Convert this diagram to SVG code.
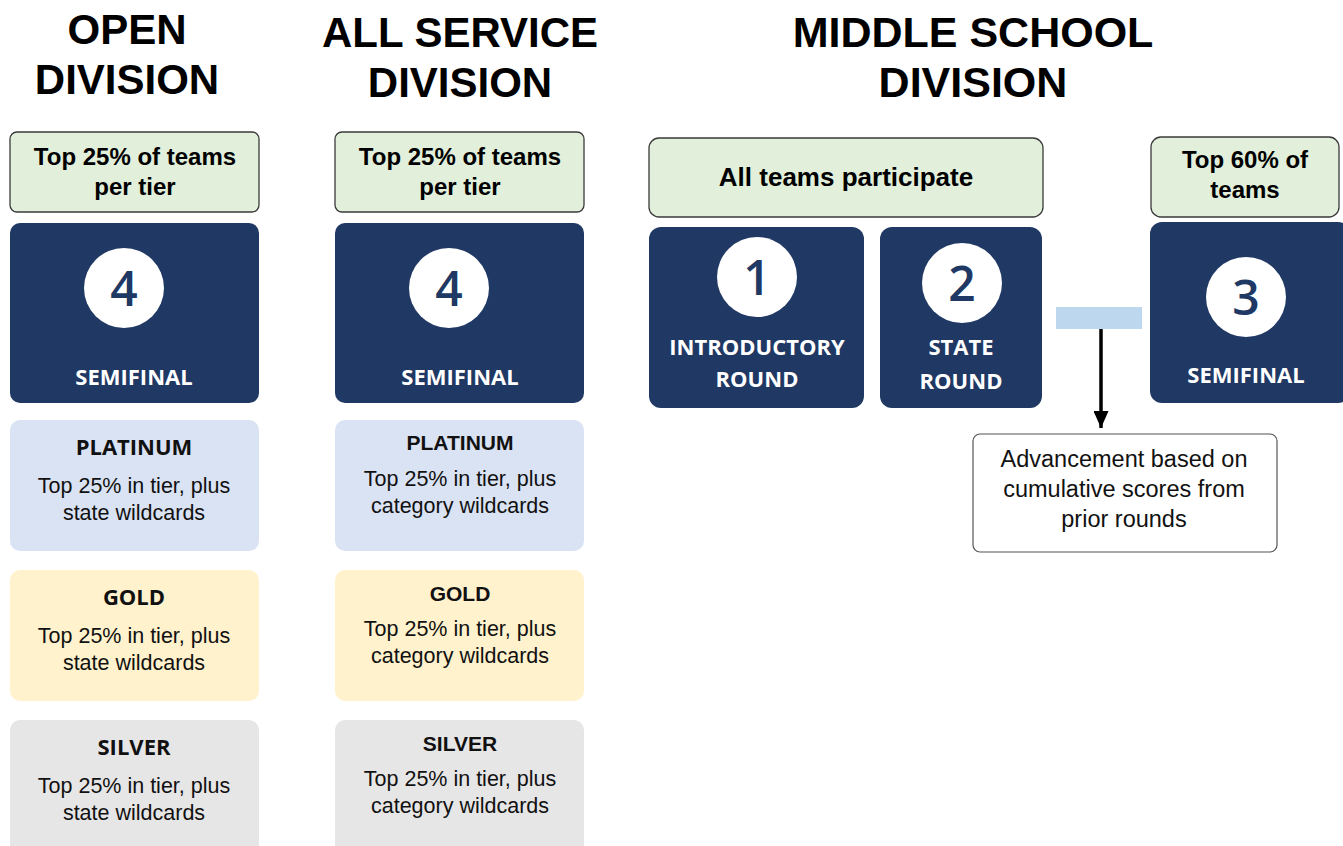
<svg xmlns="http://www.w3.org/2000/svg" width="1343" height="846" viewBox="0 0 1343 846">
<defs>
<style>
.head{font-family:"Liberation Sans",Arial,sans-serif;font-weight:bold;font-size:42px;fill:#000;text-anchor:middle}
.green{fill:#e2efda;stroke:#3a3a3a;stroke-width:1.3}
.gtext{font-family:"Liberation Sans",Arial,sans-serif;font-weight:bold;font-size:24px;fill:#000;text-anchor:middle}
.navy{fill:#203864}
.circ{fill:#fff}
.num{font-family:"Open Sans",sans-serif;font-weight:600;font-size:48px;fill:#203864;text-anchor:middle}
.ntext{font-family:"Open Sans",sans-serif;font-weight:bold;font-size:22px;fill:#fff;text-anchor:middle}
.plat{fill:#dae3f3}
.gold{fill:#fff2cc}
.silv{fill:#e7e6e6}
.ttl{font-family:"Open Sans",sans-serif;font-weight:bold;font-size:22px;fill:#111;text-anchor:middle}
.ttl2{font-family:"Liberation Sans",Arial,sans-serif;font-weight:bold;font-size:21px;fill:#111;text-anchor:middle}
.desc{font-family:"Liberation Sans",Arial,sans-serif;font-size:21.5px;fill:#111;text-anchor:middle}
.note{fill:#fff;stroke:#555;stroke-width:1.2}
.ntxt{font-family:"Liberation Sans",Arial,sans-serif;font-size:23.5px;fill:#111;text-anchor:middle}
</style>
<marker id="arr" markerWidth="17" markerHeight="15" refX="17" refY="7.5" orient="auto" markerUnits="userSpaceOnUse">
<path d="M0,0 L17,7.5 L0,15 z" fill="#000"/>
</marker>
</defs>
<rect width="1343" height="846" fill="#fff"/>

<g id="heading-open">
<text class="head" x="127" y="44">OPEN</text>
<text class="head" x="127" y="94">DIVISION</text>
</g>
<g id="heading-allservice">
<text class="head" x="460" y="47">ALL SERVICE</text>
<text class="head" x="460" y="97">DIVISION</text>
</g>
<g id="heading-middle">
<text class="head" x="973" y="47" style="font-size:43px">MIDDLE SCHOOL</text>
<text class="head" x="973" y="97" style="font-size:43px">DIVISION</text>
</g>

<!-- Open division -->
<g id="open-qual">
<rect class="green" x="10" y="132" width="249" height="80" rx="7"/>
<text class="gtext" x="135" y="165">Top 25% of teams</text>
<text class="gtext" x="135" y="195">per tier</text>
</g>
<g id="open-semifinal">
<rect class="navy" x="10" y="223" width="249" height="180" rx="10"/>
<circle class="circ" cx="124" cy="288" r="40"/>
<text class="num" x="124" y="306">4</text>
<text class="ntext" x="134" y="385">SEMIFINAL</text>
</g>
<g id="open-platinum">
<rect class="plat" x="10" y="420" width="249" height="131" rx="10"/>
<text class="ttl" x="134" y="455">PLATINUM</text>
<text class="desc" x="134" y="493">Top 25% in tier, plus</text>
<text class="desc" x="134" y="520">state wildcards</text>
</g>
<g id="open-gold">
<rect class="gold" x="10" y="570" width="249" height="131" rx="10"/>
<text class="ttl" x="134" y="605">GOLD</text>
<text class="desc" x="134" y="643">Top 25% in tier, plus</text>
<text class="desc" x="134" y="670">state wildcards</text>
</g>
<g id="open-silver">
<rect class="silv" x="10" y="720" width="249" height="140" rx="10"/>
<text class="ttl" x="134" y="755">SILVER</text>
<text class="desc" x="134" y="793">Top 25% in tier, plus</text>
<text class="desc" x="134" y="820">state wildcards</text>
</g>

<!-- All service division -->
<g id="as-qual">
<rect class="green" x="335" y="132" width="249" height="80" rx="7"/>
<text class="gtext" x="460" y="165">Top 25% of teams</text>
<text class="gtext" x="460" y="195">per tier</text>
</g>
<g id="as-semifinal">
<rect class="navy" x="335" y="223" width="249" height="180" rx="10"/>
<circle class="circ" cx="449" cy="288" r="40"/>
<text class="num" x="449" y="306">4</text>
<text class="ntext" x="460" y="385">SEMIFINAL</text>
</g>
<g id="as-platinum">
<rect class="plat" x="335" y="420" width="249" height="131" rx="10"/>
<text class="ttl2" x="460" y="450">PLATINUM</text>
<text class="desc" x="460" y="486">Top 25% in tier, plus</text>
<text class="desc" x="460" y="513">category wildcards</text>
</g>
<g id="as-gold">
<rect class="gold" x="335" y="570" width="249" height="131" rx="10"/>
<text class="ttl2" x="460" y="601">GOLD</text>
<text class="desc" x="460" y="636">Top 25% in tier, plus</text>
<text class="desc" x="460" y="663">category wildcards</text>
</g>
<g id="as-silver">
<rect class="silv" x="335" y="720" width="249" height="140" rx="10"/>
<text class="ttl2" x="460" y="751">SILVER</text>
<text class="desc" x="460" y="786">Top 25% in tier, plus</text>
<text class="desc" x="460" y="813">category wildcards</text>
</g>

<!-- Middle school -->
<g id="ms-all">
<rect class="green" x="649" y="138" width="394" height="79" rx="10"/>
<text class="gtext" x="846" y="186" style="font-size:26px">All teams participate</text>
</g>
<g id="ms-intro">
<rect class="navy" x="649" y="227" width="215" height="181" rx="12"/>
<circle class="circ" cx="757" cy="277" r="40"/>
<text class="num" x="757" y="295">1</text>
<text class="ntext" x="757" y="355">INTRODUCTORY</text>
<text class="ntext" x="757" y="387">ROUND</text>
</g>
<g id="ms-state">
<rect class="navy" x="880" y="227" width="162" height="181" rx="12"/>
<circle class="circ" cx="962" cy="283" r="40"/>
<text class="num" x="962" y="301">2</text>
<text class="ntext" x="961" y="355">STATE</text>
<text class="ntext" x="961" y="389">ROUND</text>
</g>
<g id="ms-top60">
<rect class="green" x="1151" y="137" width="188" height="80" rx="10"/>
<text class="gtext" x="1245" y="168">Top 60% of</text>
<text class="gtext" x="1245" y="198">teams</text>
</g>
<g id="ms-semifinal">
<rect class="navy" x="1150" y="222" width="200" height="181" rx="12"/>
<circle class="circ" cx="1246" cy="297" r="40"/>
<text class="num" x="1246" y="315">3</text>
<text class="ntext" x="1246" y="383">SEMIFINAL</text>
</g>
<g id="ms-bar">
<rect x="1056" y="307" width="86" height="22" fill="#bdd7ee"/>
</g>
<g id="ms-note">
<rect class="note" x="973" y="434" width="304" height="118" rx="7"/>
<text class="ntxt" x="1124" y="467">Advancement based on</text>
<text class="ntxt" x="1124" y="497">cumulative scores from</text>
<text class="ntxt" x="1124" y="527">prior rounds</text>
</g>

<g id="connectors">
<line x1="1101" y1="329" x2="1101" y2="428" stroke="#000" stroke-width="3.5" marker-end="url(#arr)"/>
</g>
</svg>
